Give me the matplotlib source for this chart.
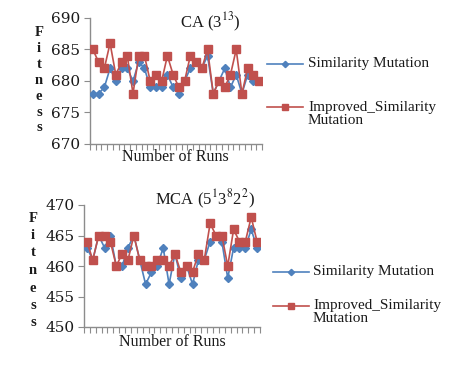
import matplotlib
matplotlib.use("Agg")
import matplotlib.pyplot as plt
from matplotlib.lines import Line2D

# ---- data ----
runs = list(range(1, 31))
ca_similarity = [678, 678, 679, 682, 680, 682, 682, 680, 683, 682,
                 679, 679, 679, 681, 679, 678, 680, 682, 683, 682,
                 684, 678, 680, 682, 679, 681, 678, 681, 680, 680]
ca_improved = [685, 683, 682, 686, 681, 683, 684, 678, 684, 684,
               680, 681, 680, 684, 681, 679, 680, 684, 683, 682,
               685, 678, 680, 679, 681, 685, 678, 682, 681, 680]
mca_similarity = [463, 461, 465, 463, 465, 460, 460, 463, 465, 461,
                  457, 459, 460, 463, 457, 462, 458, 460, 457, 461,
                  461, 464, 465, 464, 458, 463, 463, 463, 466, 463]
mca_improved = [464, 461, 465, 465, 464, 460, 462, 461, 465, 461,
                460, 460, 461, 461, 460, 462, 459, 460, 459, 462,
                461, 467, 465, 465, 460, 466, 464, 464, 468, 464]
ca_ticks = [670, 675, 680, 685, 690]
mca_ticks = [450, 455, 460, 465, 470]
legend_labels = ["Similarity Mutation", "Improved_Similarity\nMutation"]

BLUE = "#4F81BD"
RED = "#C0504D"
TXT = "#1a1a1a"
SERIF = ["Liberation Serif", "DejaVu Serif"]
TICKFONT = ["DejaVu Serif"]

W, H = 450, 371
fig = plt.figure(figsize=(W / 100, H / 100), dpi=100)


def fx(px):
    return px / W


def fy(py):
    return 1 - py / H


def make_axes(left, right, top, bottom):
    return fig.add_axes([fx(left), fy(bottom), fx(right) - fx(left), fy(top) - fy(bottom)])


def style(ax, yticks, sim, imp):
    n = len(sim)
    x = list(range(n))
    ax.plot(x, sim, color=BLUE, lw=1.2, marker="D", ms=3.8, mfc=BLUE, mec=BLUE, zorder=3)
    ax.plot(x, imp, color=RED, lw=1.2, marker="s", ms=5.4, mfc=RED, mec=RED, zorder=4)
    ax.set_xlim(-0.5, n - 0.5)
    ax.set_ylim(yticks[0], yticks[-1])
    ax.set_yticks(yticks)
    ax.set_xticks([i - 0.5 for i in range(n + 1)])
    ax.set_xticklabels([])
    for s in ["top", "right"]:
        ax.spines[s].set_visible(False)
    for s in ["left", "bottom"]:
        ax.spines[s].set_color("#8c8c8c")
        ax.spines[s].set_linewidth(1.0)
    ax.tick_params(axis="y", length=4, color="#8c8c8c", labelsize=11, labelcolor=TXT, pad=3)
    ax.tick_params(axis="x", length=4, color="#8c8c8c", direction="out")
    for lab in ax.get_yticklabels():
        lab.set_family(TICKFONT)


ax1 = make_axes(90, 262, 18, 144)
style(ax1, ca_ticks, ca_similarity, ca_improved)
ax2 = make_axes(84, 260, 205, 327)
style(ax2, mca_ticks, mca_similarity, mca_improved)

# titles
fig.text(fx(210), fy(22), r"CA (3$^{13}$)", ha="center", va="center", fontsize=12,
         family=SERIF, color=TXT, math_fontfamily="stix")
fig.text(fx(205), fy(199), r"MCA (5$^{1}$3$^{8}$2$^{2}$)", ha="center", va="center", fontsize=12,
         family=SERIF, color=TXT, math_fontfamily="stix")

# x labels
fig.text(fx(175), fy(157), "Number of Runs", ha="center", va="center", fontsize=11.5,
         family=SERIF, color=TXT)
fig.text(fx(172), fy(342), "Number of Runs", ha="center", va="center", fontsize=11.5,
         family=SERIF, color=TXT)

# stacked y labels
for xc, y0, step in [(39, 33, 15.8), (33, 218, 17.5)]:
    for i, ch in enumerate("Fitness"):
        fig.text(fx(xc), fy(y0 + i * step), ch, ha="center", va="center", fontsize=10.5,
                 family=SERIF, color=TXT, fontweight="bold")

# legends
for (lx0, lx1, ty, ry, tx) in [(267, 303, 64, 107, 308), (273, 309, 272, 306, 313)]:
    for yy, col, mk, ms, lab in [(ty, BLUE, "D", 3.2, legend_labels[0]),
                                (ry, RED, "s", 4.8, legend_labels[1])]:
        fig.add_artist(Line2D([fx(lx0), fx(lx1)], [fy(yy), fy(yy)], color=col, lw=1.2,
                              transform=fig.transFigure))
        fig.add_artist(Line2D([fx((lx0 + lx1) / 2)], [fy(yy)], color=col, marker=mk, ms=ms,
                              transform=fig.transFigure))
        lines = lab.split("\n")
        for j, part in enumerate(lines):
            fig.text(fx(tx), fy(yy + 13 * j), part, ha="left", va="center", fontsize=11,
                     family=SERIF, color=TXT)

fig.savefig("out.png", dpi=100)
